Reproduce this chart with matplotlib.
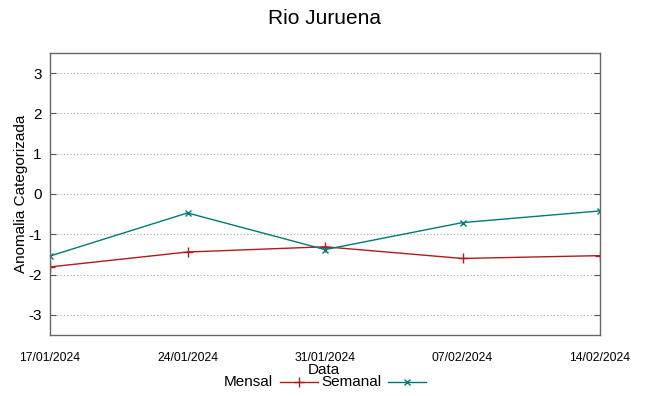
import matplotlib.pyplot as plt
from matplotlib.lines import Line2D

plt.rcParams['font.family'] = ['Liberation Sans', 'DejaVu Sans']

datas = ['17/01/2024', '24/01/2024', '31/01/2024', '07/02/2024', '14/02/2024']
mensal = [-1.81, -1.44, -1.31, -1.60, -1.53]
semanal = [-1.54, -0.47, -1.38, -0.71, -0.42]
yticks = [-3, -2, -1, 0, 1, 2, 3]

cor_mensal = '#b01c1c'
cor_semanal = '#007a7a'

fig = plt.figure(figsize=(6.49, 3.96), dpi=100)
ax = fig.add_axes([50 / 649, 1 - 335 / 396, 550 / 649, 282 / 396])

x = list(range(len(datas)))
ax.plot(x, mensal, color=cor_mensal, lw=1, marker='+', ms=7, mew=1)
ax.plot(x, semanal, color=cor_semanal, lw=1, marker='x', ms=5, mew=1)

ax.set_xlim(0, len(datas) - 1)
ax.set_ylim(-3.5, 3.5)
ax.set_xticks(x)
ax.set_xticklabels(datas, fontsize=8.8)
ax.set_yticks(yticks)
ax.set_yticklabels([str(v) for v in yticks], fontsize=11)
ax.tick_params(axis='y', direction='in', right=True, length=4, pad=6, color='#555555')
ax.tick_params(axis='x', direction='in', length=0, pad=12)
ax.grid(axis='y', ls=(0, (1, 2)), color='#aaaaaa', lw=0.8)
for s in ax.spines.values():
    s.set_color('#666666')
    s.set_linewidth(1)

ax.set_ylabel('Anomalia Categorizada', fontsize=11, labelpad=0)
fig.text(324 / 649, 1 - 370 / 396, 'Data', ha='center', va='center', fontsize=11)
fig.text(324 / 649, 1 - 18 / 396, 'Rio Juruena', ha='center', va='center', fontsize=15)

# legenda manual no estilo gnuplot
ly = 1 - 382 / 396
fig.text(273 / 649, ly, 'Mensal', ha='right', va='center', fontsize=11)
fig.add_artist(Line2D([280 / 649, 318 / 649], [ly, ly], color=cor_mensal, lw=1))
fig.add_artist(Line2D([299 / 649], [ly], color=cor_mensal, marker='+', ms=7, mew=1))
fig.text(381 / 649, ly, 'Semanal', ha='right', va='center', fontsize=11)
fig.add_artist(Line2D([388 / 649, 426 / 649], [ly, ly], color=cor_semanal, lw=1))
fig.add_artist(Line2D([407 / 649], [ly], color=cor_semanal, marker='x', ms=5, mew=1))

fig.savefig('out.png', dpi=100)
